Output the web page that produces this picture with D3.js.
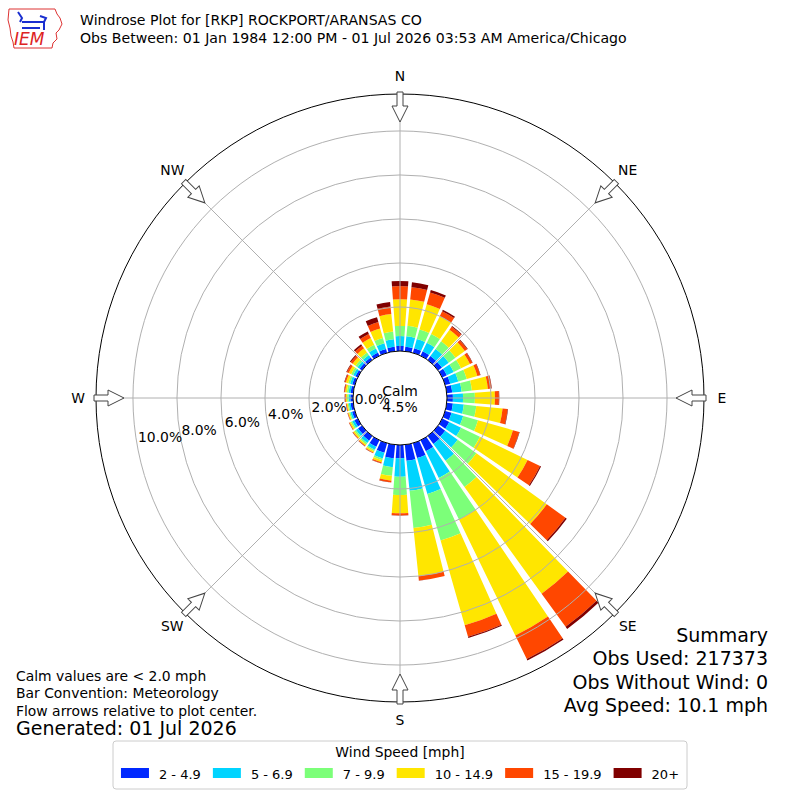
<!DOCTYPE html>
<html>
<head>
<meta charset="utf-8">
<title>Windrose Plot RKP</title>
<script src="https://d3js.org/d3.v7.min.js"></script>
<style>
  body { margin: 0; background: #fff; }
  text { font-family: "DejaVu Sans", sans-serif; fill: #000; }
</style>
</head>
<body>
<div id="chart"></div>
<script>
// direction bins (degrees, meteorological "from")
const directions = d3.range(0, 360, 10);
const speedBins = ["2 - 4.9", "5 - 6.9", "7 - 9.9", "10 - 14.9", "15 - 19.9", "20+"];
const binColors = ["#0028ff", "#00d4ff", "#7cff79", "#ffe600", "#ff4700", "#800000"];

// percent of observations, one value per direction bin
const spd2  = [0.23,0.21,0.22,0.22,0.22,0.22,0.23,0.24,0.25,0.27,0.28,0.30,0.35,0.40,0.45,0.55,0.70,0.73,
               0.60,0.62,0.45,0.33,0.26,0.22,0.17,0.13,0.12,0.12,0.12,0.12,0.12,0.13,0.14,0.16,0.18,0.20];
const spd5  = [0.45,0.47,0.43,0.43,0.40,0.38,0.35,0.38,0.43,0.46,0.50,0.55,0.60,0.70,0.94,1.35,1.70,1.37,
               0.84,0.41,0.27,0.15,0.13,0.12,0.11,0.08,0.08,0.08,0.09,0.10,0.11,0.12,0.14,0.21,0.27,0.35];
const spd7  = [0.46,0.48,0.45,0.45,0.43,0.38,0.37,0.40,0.47,0.54,0.57,0.70,0.95,1.05,1.47,2.10,2.20,1.70,
               0.83,0.39,0.08,0.07,0.08,0.08,0.07,0.06,0.05,0.07,0.08,0.09,0.10,0.11,0.14,0.18,0.25,0.35];
const spd10 = [1.21,1.21,1.20,0.90,0.65,0.52,0.45,0.50,0.73,0.91,1.20,1.65,2.41,3.95,5.98,5.86,4.00,2.20,
               0.83,0.22,0.10,0.07,0.07,0.07,0.06,0.05,0.05,0.06,0.08,0.11,0.13,0.16,0.23,0.35,0.45,0.80];
const spd15 = [0.60,0.55,0.55,0.25,0.16,0.14,0.12,0.13,0.16,0.18,0.23,0.30,0.63,1.05,1.86,1.19,0.55,0.20,
               0.10,0.08,0.05,0.03,0.03,0.03,0.03,0.02,0.03,0.03,0.04,0.06,0.09,0.11,0.15,0.20,0.30,0.35];
const spd20 = [0.23,0.23,0.12,0.07,0.04,0.03,0.02,0.02,0.02,0.02,0.02,0.02,0.05,0.07,0.12,0.07,0.05,0.01,
               0.01,0.01,0.01,0.01,0.01,0.01,0.01,0.01,0.01,0.02,0.02,0.02,0.03,0.05,0.08,0.12,0.23,0.20];

const ringTicks = [0, 2, 4, 6, 8, 10];
const compass = ["N", "NE", "E", "SE", "S", "SW", "W", "NW"];
const calmPct = "4.5%";
const titleLines = ["Windrose Plot for [RKP] ROCKPORT/ARANSAS CO",
  "Obs Between: 01 Jan 1984 12:00 PM - 01 Jul 2026 03:53 AM America/Chicago"];
const noteLines = ["Calm values are < 2.0 mph", "Bar Convention: Meteorology",
  "Flow arrows relative to plot center."];
const generated = "Generated: 01 Jul 2026";
const summaryLines = ["Summary", "Obs Used: 217373", "Obs Without Wind: 0", "Avg Speed: 10.1 mph"];

const width = 800, height = 800;
const cx = 400, cy = 398, R = 304, r0 = 47, rMax = 11.68;

const svg = d3.select("#chart").append("svg")
    .attr("width", width)
    .attr("height", height);

const r = d3.scaleLinear().domain([0, rMax]).range([r0, R]);
const rad = d => d * Math.PI / 180;

const series = [spd2, spd5, spd7, spd10, spd15, spd20];
const table = directions.map((d, i) => {
  const row = { dir: d };
  speedBins.forEach((k, j) => row[k] = series[j][i]);
  return row;
});
const stacked = d3.stack().keys(speedBins)(table);

const plot = svg.append("g").attr("transform", "translate(" + cx + "," + cy + ")");

const arc = d3.arc();
const halfW = 4.1;

plot.selectAll("g.layer")
  .data(stacked)
  .join("g")
    .attr("class", "layer")
    .attr("fill", (d, i) => binColors[i])
  .selectAll("path")
  .data(d => d)
  .join("path")
    .attr("d", d => arc({
      innerRadius: r(d[0]), outerRadius: r(d[1]),
      startAngle: rad(d.data.dir - halfW), endAngle: rad(d.data.dir + halfW)
    }));

// grid on top of bars
plot.selectAll("circle.ring")
  .data(ringTicks.slice(1))
  .join("circle")
    .attr("class", "ring")
    .attr("r", d => r(d))
    .attr("fill", "none")
    .attr("stroke", "#b0b0b0")
    .attr("stroke-width", 1);

plot.selectAll("line.spoke")
  .data(d3.range(0, 360, 45))
  .join("line")
    .attr("class", "spoke")
    .attr("x1", d => r0 * Math.sin(rad(d)))
    .attr("y1", d => -r0 * Math.cos(rad(d)))
    .attr("x2", d => R * Math.sin(rad(d)))
    .attr("y2", d => -R * Math.cos(rad(d)))
    .attr("stroke", "#b0b0b0")
    .attr("stroke-width", 1);

// calm circle and outer frame
plot.append("circle").attr("r", r0).attr("fill", "#fff").attr("stroke", "#000").attr("stroke-width", 1);
plot.append("circle").attr("r", R).attr("fill", "none").attr("stroke", "#000").attr("stroke-width", 1);

// flow arrows
plot.selectAll("path.arrow")
  .data(d3.range(0, 360, 45))
  .join("path")
    .attr("class", "arrow")
    .attr("transform", d => "rotate(" + d + ")")
    .attr("d", "M-3,-306 L3,-306 L3,-292 L8,-292 L0,-276 L-8,-292 L-3,-292 Z")
    .attr("fill", "#fff")
    .attr("stroke", "#444")
    .attr("stroke-width", 1);

// compass labels
plot.selectAll("text.compass")
  .data(compass)
  .join("text")
    .attr("class", "compass")
    .attr("x", (d, i) => 322 * Math.sin(rad(i * 45)))
    .attr("y", (d, i) => -322 * Math.cos(rad(i * 45)))
    .attr("text-anchor", "middle")
    .attr("dominant-baseline", "central")
    .attr("font-size", 13.9)
    .text(d => d);

// radial tick labels, placed 10 degrees below W
const labAng = rad(260);
plot.selectAll("text.rlab")
  .data(ringTicks)
  .join("text")
    .attr("class", "rlab")
    .attr("x", d => r(d) * Math.sin(labAng) + 1)
    .attr("y", d => -r(d) * Math.cos(labAng) - 2)
    .attr("font-size", 13.9)
    .text(d => d.toFixed(1) + "%");

plot.append("text").attr("x", 0).attr("y", -2).attr("text-anchor", "middle")
  .attr("font-size", 13.9).text("Calm");
plot.append("text").attr("x", 0).attr("y", 14).attr("text-anchor", "middle")
  .attr("font-size", 13.9).text(calmPct);

// header
svg.selectAll("text.title")
  .data(titleLines)
  .join("text")
    .attr("class", "title")
    .attr("x", 80)
    .attr("y", (d, i) => 25 + i * 18)
    .attr("font-size", 14.1)
    .text(d => d);

// IEM logo
const logo = svg.append("g");
logo.append("path")
  .attr("d", "M9,9 L55,9 L57,14 L60,18 L62,24 L59,30 L56,33 L57,39 L53,43 L52,48 L14,48 L13,42 L11,36 L10,28 L8,20 Z")
  .attr("fill", "none").attr("stroke", "#d33").attr("stroke-width", 1);
logo.append("path")
  .attr("d", "M18,12 L22,18 L20,22 M22,22 L44,22 M40,16 L46,18 L44,22 M44,22 L44,30 M22,28 L40,28")
  .attr("fill", "none").attr("stroke", "#1a2fd0").attr("stroke-width", 2);
logo.append("text").attr("x", 14).attr("y", 45)
  .attr("font-family", "Liberation Serif, serif").attr("font-style", "italic")
  .attr("font-size", 17).style("fill", "#d22").text("IEM");

// notes bottom left
svg.selectAll("text.note")
  .data(noteLines)
  .join("text")
    .attr("class", "note")
    .attr("x", 16)
    .attr("y", (d, i) => 681 + i * 17.3)
    .attr("font-size", 13.9)
    .text(d => d);
svg.append("text").attr("x", 16).attr("y", 735).attr("font-size", 19).text(generated);

// summary bottom right
svg.selectAll("text.summary")
  .data(summaryLines)
  .join("text")
    .attr("class", "summary")
    .attr("x", 768)
    .attr("y", (d, i) => 642 + i * 23.3)
    .attr("text-anchor", "end")
    .attr("font-size", 19)
    .text(d => d);

// legend
const leg = svg.append("g");
leg.append("rect")
  .attr("x", 113).attr("y", 741).attr("width", 574).attr("height", 48)
  .attr("rx", 3).attr("fill", "#fff").attr("stroke", "#ccc").attr("stroke-width", 1);
leg.append("text").attr("x", 400).attr("y", 757).attr("text-anchor", "middle")
  .attr("font-size", 13.9).text("Wind Speed [mph]");

const items = leg.append("g");
let xpos = 0;
speedBins.forEach((k, i) => {
  items.append("rect").attr("x", xpos).attr("y", 768).attr("width", 28).attr("height", 10)
    .attr("fill", binColors[i]);
  const t = items.append("text").attr("x", xpos + 38).attr("y", 778.5)
    .attr("font-size", 13).text(k);
  xpos += 38 + t.node().getComputedTextLength() + 12;
});
const rowW = xpos - 12;
items.attr("transform", "translate(" + (400 - rowW / 2) + ",0)");
</script>
</body>
</html>
